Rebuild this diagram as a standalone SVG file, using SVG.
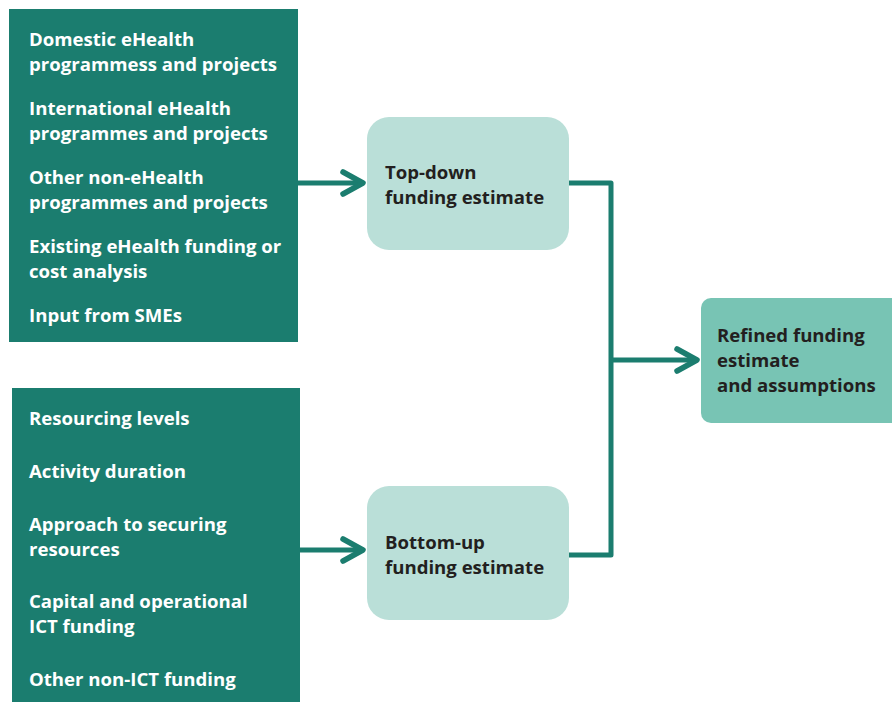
<svg xmlns="http://www.w3.org/2000/svg" width="892" height="702" viewBox="0 0 892 702">
<style>
.dark{fill:#1b7d6f}
.light{fill:#badfd8}
.mid{fill:#78c4b4}
.wt{font-family:"Open Sans","Noto Sans",sans-serif;font-weight:700;font-size:18.6px;fill:#ffffff}
.bt{font-family:"Open Sans","Noto Sans",sans-serif;font-weight:700;font-size:18.6px;fill:#231f20}
.con{fill:none;stroke:#1b7d6f;stroke-width:5;stroke-linejoin:round}
.head{fill:none;stroke:#1b7d6f;stroke-width:5.5;stroke-linecap:round;stroke-linejoin:round}
</style>
<g id="inputs-top">
<rect class="dark" x="9" y="9" width="289" height="333"/>
<text class="wt" x="29" y="46">Domestic eHealth</text>
<text class="wt" x="29" y="71">programmess and projects</text>
<text class="wt" x="29" y="115">International eHealth</text>
<text class="wt" x="29" y="140">programmes and projects</text>
<text class="wt" x="29" y="184">Other non-eHealth</text>
<text class="wt" x="29" y="209">programmes and projects</text>
<text class="wt" x="29" y="253">Existing eHealth funding or</text>
<text class="wt" x="29" y="278">cost analysis</text>
<text class="wt" x="29" y="322">Input from SMEs</text>
</g>
<g id="inputs-bottom">
<rect class="dark" x="12" y="388" width="288" height="314"/>
<text class="wt" x="29" y="425">Resourcing levels</text>
<text class="wt" x="29" y="478">Activity duration</text>
<text class="wt" x="29" y="531">Approach to securing</text>
<text class="wt" x="29" y="556">resources</text>
<text class="wt" x="29" y="608">Capital and operational</text>
<text class="wt" x="29" y="633">ICT funding</text>
<text class="wt" x="29" y="686">Other non-ICT funding</text>
</g>
<g id="top-down">
<rect class="light" x="367" y="117" width="202" height="133" rx="22"/>
<text class="bt" x="385" y="179">Top-down</text>
<text class="bt" x="385" y="204">funding estimate</text>
</g>
<g id="bottom-up">
<rect class="light" x="367" y="486" width="202" height="134" rx="22"/>
<text class="bt" x="385" y="549">Bottom-up</text>
<text class="bt" x="385" y="574">funding estimate</text>
</g>
<g id="refined">
<rect class="mid" x="701" y="298" width="200" height="125" rx="10"/>
<text class="bt" x="717" y="342">Refined funding</text>
<text class="bt" x="717" y="367">estimate</text>
<text class="bt" x="717" y="392">and assumptions</text>
</g>
<g id="connectors">
<line class="con" x1="298" y1="183" x2="363" y2="183"/>
<polyline class="head" points="343,172 363,183 343,194"/>
<line class="con" x1="300" y1="550" x2="363" y2="550"/>
<polyline class="head" points="343,539 363,550 343,561"/>
<polyline class="con" points="569,183 611,183 611,555 569,555"/>
<line class="con" x1="611" y1="360" x2="697" y2="360"/>
<polyline class="head" points="677,349 697,360 677,371"/>
</g>
</svg>
